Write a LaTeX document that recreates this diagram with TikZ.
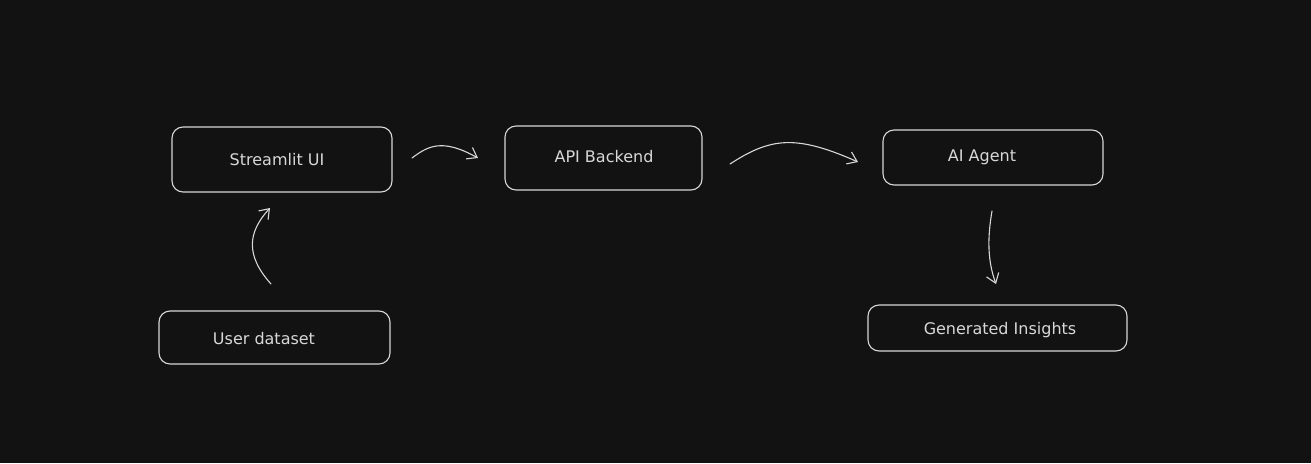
\documentclass[tikz,border=0pt]{standalone}
\usepackage{fontspec}
\setmainfont{DejaVu Sans}
\usetikzlibrary{arrows.meta}
\definecolor{bg}{HTML}{121212}
\definecolor{ink}{HTML}{D8D8D8}
\tikzset{
  box/.style={draw=ink, line width=1.1pt, rounded corners=11pt, inner sep=0pt},
  lbl/.style={text=ink, font=\fontsize{16}{19}\selectfont, inner sep=0pt, anchor=center},
  arr/.style={draw=ink, line width=1.1pt, line cap=round, -{Straight Barb[length=9pt,width=13pt,line width=1.1pt]}}
}
\begin{document}
\begin{tikzpicture}[x=1pt,y=-1pt]
\fill[bg] (0,0) rectangle (1311,463);
\useasboundingbox (0,0) rectangle (1311,463);
\node[box, minimum width=220pt, minimum height=65pt] (ui) at (282,159.5) {};
\node[box, minimum width=197pt, minimum height=64pt] (api) at (603.5,158) {};
\node[box, minimum width=220pt, minimum height=55pt] (agent) at (993,157.5) {};
\node[box, minimum width=231pt, minimum height=53pt] (data) at (274.5,337.5) {};
\node[box, minimum width=259pt, minimum height=46pt] (ins) at (997.5,328) {};
\node[lbl] (uit) at (277,160) {Streamlit UI};
\node[lbl] (apit) at (604,157) {API Backend};
\node[lbl] (agentt) at (982,157) {AI Agent};
\node[lbl] (datat) at (264,339) {User dataset};
\node[lbl] (inst) at (1000,330) {Generated Insights};
\coordinate (a1s) at (412,158);
\coordinate (a1e) at (478,158);
\coordinate (a2s) at (730,164);
\coordinate (a2e) at (858,162);
\coordinate (a3s) at (271,284);
\coordinate (a3e) at (270,208);
\coordinate (a4s) at (992,211);
\coordinate (a4e) at (996,284);
\draw[arr] (a1s) .. controls (428,146) and (442,138) .. (a1e);
\draw[arr] (a2s) .. controls (770,138) and (795,134) .. (a2e);
\draw[arr] (a3s) .. controls (245,255) and (248,232) .. (a3e);
\draw[arr] (a4s) .. controls (987,240) and (988,262) .. (a4e);
\end{tikzpicture}
\end{document}
